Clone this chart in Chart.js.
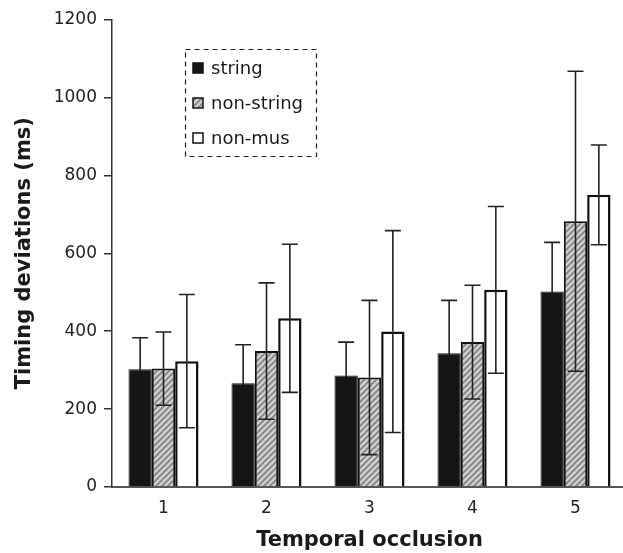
<!DOCTYPE html>
<html>
<head>
<meta charset="utf-8">
<script src="https://cdn.jsdelivr.net/npm/chart.js@4"></script>
<style>
  html, body { margin: 0; padding: 0; background: #fff; overflow: hidden; }
  canvas { display: block; }
</style>
</head>
<body>
<canvas id="bar" width="640" height="553"></canvas>
<script>
// values (ms)
const categories = ['1', '2', '3', '4', '5'];
const seriesNames = ['string', 'non-string', 'non-mus'];
const stringMeans = [302, 266, 286, 343, 502];
const stringErr = [81, 99, 86, 136, 126];
const nonStringMeans = [304, 349, 281, 372, 682];
const nonStringErr = [94, 175, 198, 146, 385];
const nonMusMeans = [323, 433, 399, 506, 750];
const nonMusErr = [171, 190, 259, 214, 128];
const yTicks = [0, 200, 400, 600, 800, 1000, 1200];

const errors = [stringErr, nonStringErr, nonMusErr];

// grey diagonal hatch for the middle bars
function makeHatch() {
    let c = document.createElement('canvas');
    c.width = 6;
    c.height = 6;
    let g = c.getContext('2d');
    g.fillStyle = '#d4d4d4';
    g.fillRect(0, 0, 6, 6);
    g.strokeStyle = '#8a8a8a';
    g.lineWidth = 2;
    g.beginPath();
    g.moveTo(-1, 7); g.lineTo(7, -1);
    g.moveTo(-1, 1); g.lineTo(1, -1);
    g.moveTo(5, 7); g.lineTo(7, 5);
    g.stroke();
    return g.createPattern(c, 'repeat');
}
const hatch = makeHatch();

// whiskers on every bar; the lower half is hidden inside the black bars
const errorBars = {
    id: 'errorBars',
    afterDatasetsDraw(chart) {
        let ctx = chart.ctx;
        let y = chart.scales.y;
        ctx.save();
        ctx.lineWidth = 1.6;
        chart.data.datasets.forEach((ds, i) => {
            let lowColor = i === 0 ? '#151515' : '#222';
            chart.getDatasetMeta(i).data.forEach((bar, j) => {
                let v = ds.data[j];
                let e = errors[i][j];
                let mid = y.getPixelForValue(v);
                let top = y.getPixelForValue(v + e);
                let bot = y.getPixelForValue(v - e);
                ctx.strokeStyle = '#222';
                ctx.beginPath();
                ctx.moveTo(bar.x, top); ctx.lineTo(bar.x, mid);
                ctx.moveTo(bar.x - 8, top); ctx.lineTo(bar.x + 8, top);
                ctx.stroke();
                ctx.strokeStyle = lowColor;
                ctx.beginPath();
                ctx.moveTo(bar.x, mid); ctx.lineTo(bar.x, bot);
                ctx.moveTo(bar.x - 8, bot); ctx.lineTo(bar.x + 8, bot);
                ctx.stroke();
            });
        });
        ctx.restore();
    }
};

// dashed legend box inside the plot
const boxLegend = {
    id: 'boxLegend',
    afterDraw(chart) {
        let ctx = chart.ctx;
        ctx.save();
        ctx.strokeStyle = '#222';
        ctx.lineWidth = 1.2;
        ctx.setLineDash([5, 4]);
        ctx.strokeRect(185.5, 49.5, 131, 107);
        ctx.setLineDash([]);
        ctx.font = '18px "DejaVu Sans"';
        ctx.textBaseline = 'middle';
        chart.data.datasets.forEach((ds, i) => {
            let cy = 68 + i * 35;
            ctx.fillStyle = ds.backgroundColor;
            ctx.fillRect(193, cy - 5, 10, 10);
            ctx.strokeStyle = '#111';
            ctx.lineWidth = 1.5;
            ctx.strokeRect(193, cy - 5, 10, 10);
            ctx.fillStyle = '#1a1a1a';
            ctx.fillText(ds.label, 211, cy + 1);
        });
        ctx.restore();
    }
};

new Chart(document.getElementById('bar'), {
    type: 'bar',
    data: {
        labels: categories,
        datasets: [
            { label: seriesNames[0], data: stringMeans, backgroundColor: '#151515', borderColor: '#151515', borderWidth: 1 },
            { label: seriesNames[1], data: nonStringMeans, backgroundColor: hatch, borderColor: '#111', borderWidth: 2 },
            { label: seriesNames[2], data: nonMusMeans, backgroundColor: '#ffffff', borderColor: '#111', borderWidth: 2.5 }
        ]
    },
    options: {
        responsive: false,
        animation: false,
        layout: { padding: { top: 19.5, right: 13, left: 0, bottom: 0 } },
        categoryPercentage: 0.68,
        barPercentage: 1.0,
        plugins: {
            legend: { display: false },
            tooltip: { enabled: false }
        },
        scales: {
            x: {
                grid: { display: false, drawTicks: false },
                border: { display: true, color: '#555', width: 2 },
                ticks: { color: '#222', padding: 11, font: { family: 'DejaVu Sans', size: 17 } },
                title: {
                    display: true,
                    text: 'Temporal occlusion',
                    color: '#1a1a1a',
                    padding: { top: 0, bottom: 0 },
                    font: { family: 'DejaVu Sans', size: 21, weight: 'bold', lineHeight: 1.2 }
                },
                afterFit(scale) { scale.height = 66; }
            },
            y: {
                min: 0,
                max: 1200,
                afterBuildTicks(scale) { scale.ticks = yTicks.map(v => ({ value: v })); },
                grid: { drawOnChartArea: false, tickLength: 8, color: '#333', lineWidth: 1.5 },
                border: { display: true, color: '#333', width: 1.5 },
                ticks: {
                    color: '#222',
                    padding: 7,
                    font: { family: 'DejaVu Sans', size: 17 },
                    callback: v => String(v)
                },
                title: {
                    display: true,
                    text: 'Timing deviations (ms)',
                    color: '#1a1a1a',
                    padding: { top: 12, bottom: 0 },
                    font: { family: 'DejaVu Sans', size: 21, weight: 'bold', lineHeight: 1.2 }
                },
                afterFit(scale) { scale.width = 112; }
            }
        }
    },
    plugins: [errorBars, boxLegend]
});
</script>
</body>
</html>
